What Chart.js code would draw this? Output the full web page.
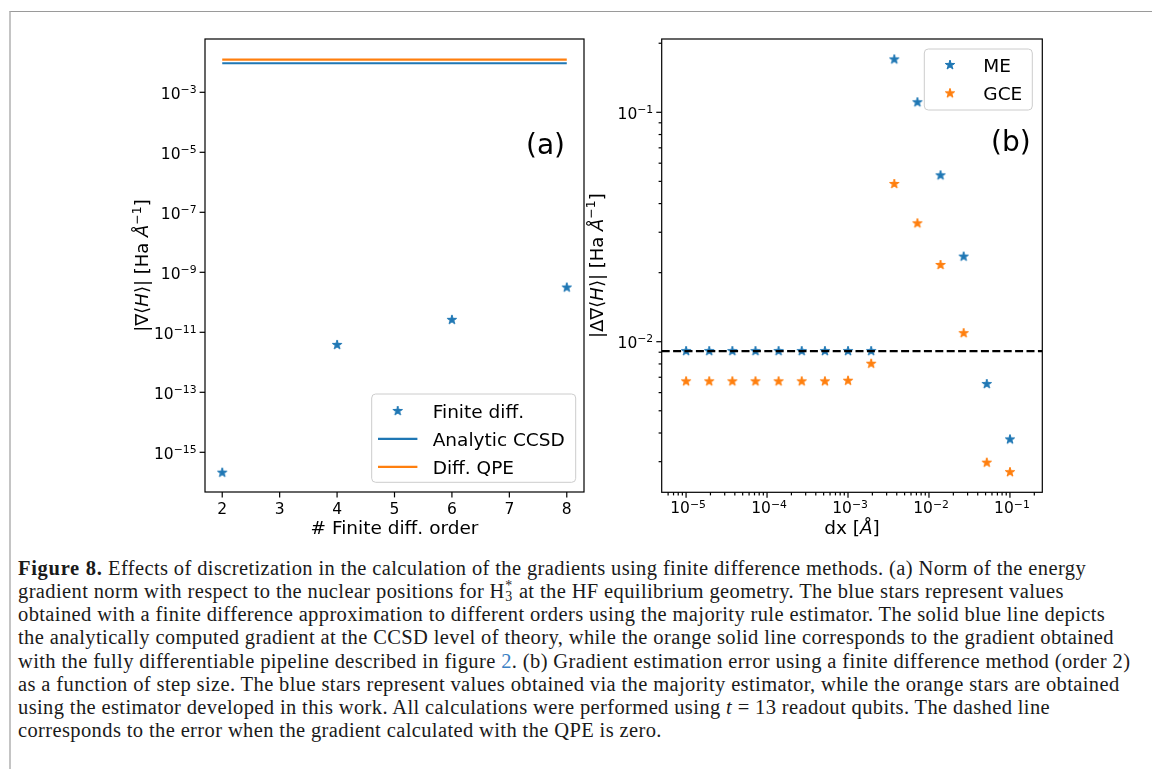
<!DOCTYPE html>
<html>
<head>
<meta charset="utf-8">
<script src="https://cdn.jsdelivr.net/npm/chart.js@4.4.0/dist/chart.umd.min.js"></script>
<style>
    html, body { margin: 0; padding: 0; background: #fff; }
    body { width: 1152px; height: 769px; position: relative; overflow: hidden; }
    #frame { position: absolute; left: 9px; top: 11px; right: -10px; bottom: -10px;
             border-top: 1px solid #9a9a9a; border-left: 2px solid #c4c4c4; }
    canvas { position: absolute; top: 0; }
    #chartA { left: 0; }
    #chartB { left: 575px; }
    #caption { position: absolute; left: 18px; top: 557px; font-family: "Liberation Serif", serif;
               font-size: 20.5px; letter-spacing: 0.38px; line-height: 23.15px; color: #1a1a1a; white-space: nowrap; }
    #caption b { letter-spacing: 0.7px; }
    #caption .link { color: #3a80c4; }
    .iso { display: inline-block; position: relative; width: 0.42em; height: 0.7em; }
    .iso span { position: absolute; left: 0.04em; font-size: 0.68em; line-height: 1; }
    .iso .sp { top: -0.38em; }
    .iso .sb { top: 0.42em; }
</style>
</head>
<body>
<div id="frame"></div>
<canvas id="chartA" width="590" height="545"></canvas>
<canvas id="chartB" width="577" height="545"></canvas>
<div id="caption">
<b>Figure 8.</b> Effects of discretization in the calculation of the gradients using finite difference methods. (a) Norm of the energy<br>
gradient norm with respect to the nuclear positions for H<span class="iso"><span class="sp">*</span><span class="sb">3</span></span> at the HF equilibrium geometry. The blue stars represent values<br>
obtained with a finite difference approximation to different orders using the majority rule estimator. The solid blue line depicts<br>
the analytically computed gradient at the CCSD level of theory, while the orange solid line corresponds to the gradient obtained<br>
with the fully differentiable pipeline described in figure <span class="link">2</span>. (b) Gradient estimation error using a finite difference method (order 2)<br>
as a function of step size. The blue stars represent values obtained via the majority estimator, while the orange stars are obtained<br>
using the estimator developed in this work. All calculations were performed using <i>t</i> = 13 readout qubits. The dashed line<br>
corresponds to the error when the gradient calculated with the QPE is zero.
</div>
<script>
const BLUE = "#1f77b4";
const ORANGE = "#ff7f0e";

// (a) gradient norm against finite difference order
const finiteOrders = [2, 4, 6, 8];
const finiteDiffGrad = [2.1e-16, 3.8e-12, 2.6e-11, 3.1e-10];
const analyticCcsdGrad = [9.3e-3, 9.3e-3, 9.3e-3, 9.3e-3];
const diffQpeGrad = [1.22e-2, 1.22e-2, 1.22e-2, 1.22e-2];
const orderTicks = [2, 3, 4, 5, 6, 7, 8];
const gradExpTicks = [-15, -13, -11, -9, -7, -5, -3];

// (b) gradient error against step size
const stepSizes = [1e-5, 1.93e-5, 3.73e-5, 7.2e-5, 1.39e-4, 2.68e-4, 5.18e-4, 1e-3,
                   1.93e-3, 3.73e-3, 7.2e-3, 1.39e-2, 2.68e-2, 5.18e-2, 1e-1];
const meError = [9.1e-3, 9.1e-3, 9.1e-3, 9.1e-3, 9.1e-3, 9.1e-3, 9.1e-3, 9.1e-3,
                 9.1e-3, 0.170, 0.1106, 0.0531, 0.0235, 6.54e-3, 3.75e-3];
const gceError = [6.72e-3, 6.72e-3, 6.72e-3, 6.72e-3, 6.72e-3, 6.72e-3, 6.72e-3, 6.76e-3,
                  8.02e-3, 0.0487, 0.0328, 0.0216, 0.0109, 2.97e-3, 2.7e-3];
const zeroGradError = 9.1e-3;
const stepExpTicks = [-5, -4, -3, -2, -1];
const errorExpTicks = [-2, -1];

// axis limits
const gradLimits = { xmin: 1.7, xmax: 8.3, ymin: 4.75e-17, ymax: 0.0598 };
const stepLimits = { xmin: 5.0e-6, xmax: 0.251, ymin: 2.206e-3, ymax: 0.2087 };

const FONT = "DejaVu Sans";
const TICK_FONT = `15.5px "${FONT}"`;
const SUP_FONT = `10.8px "${FONT}"`;

// matplotlib style filled five point star
function makeStar(color, r) {
    const s = Math.ceil(r * 2 + 4);
    const c = document.createElement("canvas");
    c.width = s;
    c.height = s;
    const ctx = c.getContext("2d");
    ctx.translate(s / 2, s / 2);
    ctx.beginPath();
    for (let i = 0; i < 10; i++) {
        const rad = i % 2 === 0 ? r : r * 0.382;
        const ang = -Math.PI / 2 + i * Math.PI / 5;
        if (i === 0) ctx.moveTo(rad * Math.cos(ang), rad * Math.sin(ang));
        else ctx.lineTo(rad * Math.cos(ang), rad * Math.sin(ang));
    }
    ctx.closePath();
    ctx.fillStyle = color;
    ctx.fill();
    ctx.lineWidth = 1;
    ctx.strokeStyle = color;
    ctx.stroke();
    return c;
}
const blueStar = makeStar(BLUE, 5);
const orangeStar = makeStar(ORANGE, 5);

// draws a run of text pieces {t, f, dy} from a baseline point
function drawRich(ctx, parts, x, y, align) {
    let total = 0;
    parts.forEach((p) => {
        ctx.font = p.f;
        total += ctx.measureText(p.t).width;
    });
    let cx = x;
    if (align === "center") cx = x - total / 2;
    if (align === "right") cx = x - total;
    ctx.textAlign = "left";
    ctx.textBaseline = "alphabetic";
    parts.forEach((p) => {
        ctx.font = p.f;
        ctx.fillText(p.t, cx, y + (p.dy || 0));
        cx += ctx.measureText(p.t).width;
    });
}

function powerLabel(exp) {
    return [{ t: "10", f: TICK_FONT }, { t: "\u2212" + Math.abs(exp), f: SUP_FONT, dy: -5.8 }];
}

function minorLogValues(min, max) {
    const vals = [];
    for (let e = Math.floor(Math.log10(min)); e <= Math.ceil(Math.log10(max)); e++) {
        for (let m = 2; m <= 9; m++) {
            const v = m * Math.pow(10, e);
            if (v >= min && v <= max) vals.push(v);
        }
    }
    return vals;
}

// frame, ticks, labels, legend and panel letter in matplotlib fashion
const mplAxes = {
    id: "mplAxes",
    afterDraw(chart, args, opts) {
        const { ctx, chartArea: a, scales } = chart;
        const xs = scales.x;
        const ys = scales.y;
        ctx.save();
        ctx.fillStyle = "#000";
        ctx.strokeStyle = "#000";
        ctx.lineWidth = 1.2;
        ctx.strokeRect(a.left, a.top, a.right - a.left, a.bottom - a.top);

        const tick = (px, py, dx, dy) => {
            ctx.beginPath();
            ctx.moveTo(px, py);
            ctx.lineTo(px + dx, py + dy);
            ctx.stroke();
        };

        // x axis
        if (opts.xLog) {
            minorLogValues(xs.min, xs.max).forEach((v) => tick(xs.getPixelForValue(v), a.bottom, 0, 3.1));
            opts.xExps.forEach((e) => {
                const px = xs.getPixelForValue(Math.pow(10, e));
                tick(px, a.bottom, 0, 5.4);
                drawRich(ctx, powerLabel(e), px + 2, a.bottom + 21, "center");
            });
        } else {
            opts.xValues.forEach((v) => {
                const px = xs.getPixelForValue(v);
                tick(px, a.bottom, 0, 5.4);
                drawRich(ctx, [{ t: String(v), f: TICK_FONT }], px, a.bottom + 21.5, "center");
            });
        }

        // y axis
        if (opts.yMinor) {
            minorLogValues(ys.min, ys.max).forEach((v) => tick(a.left, ys.getPixelForValue(v), -3.1, 0));
        }
        opts.yExps.forEach((e) => {
            const py = ys.getPixelForValue(Math.pow(10, e));
            tick(a.left, py, -5.4, 0);
            drawRich(ctx, powerLabel(e), a.left - 8.5, py + 6.5, "right");
        });

        // axis titles
        drawRich(ctx, opts.xTitle, (a.left + a.right) / 2, a.bottom + 42, "center");
        ctx.save();
        ctx.translate(opts.yTitleX, (a.top + a.bottom) / 2);
        ctx.rotate(-Math.PI / 2);
        drawRich(ctx, opts.yTitle, 0, 0, "center");
        ctx.restore();

        // panel letter
        drawRich(ctx, [{ t: opts.panel, f: `28px "${FONT}"` }], opts.panelX, opts.panelY, "left");

        // legend
        const lg = opts.legend;
        ctx.fillStyle = "rgba(255,255,255,0.8)";
        ctx.strokeStyle = "#cccccc";
        ctx.lineWidth = 1;
        ctx.beginPath();
        ctx.roundRect(lg.x, lg.y, lg.w, lg.h, 4);
        ctx.fill();
        ctx.stroke();
        const entries = chart.data.datasets.filter((d) => d.label);
        entries.sort((p, q) => p.legendOrder - q.legendOrder);
        entries.forEach((d, i) => {
            const ry = lg.y + lg.firstRow + i * lg.rowGap;
            if (d.showLine) {
                ctx.strokeStyle = d.borderColor;
                ctx.lineWidth = 2.2;
                ctx.beginPath();
                ctx.moveTo(lg.x + lg.handleX - 19.7, ry);
                ctx.lineTo(lg.x + lg.handleX + 19.7, ry);
                ctx.stroke();
            } else {
                const img = d.pointStyle;
                ctx.drawImage(img, lg.x + lg.handleX - img.width / 2, ry - img.height / 2);
            }
            ctx.fillStyle = "#000";
            drawRich(ctx, [{ t: d.label, f: `18.5px "${FONT}"` }], lg.x + lg.textX, ry + 6.8, "left");
        });
        ctx.restore();
    },
};

function hiddenAxis(type, lim) {
    return { type: type, display: false, min: lim[0], max: lim[1] };
}

const labelFont = `18.5px "${FONT}"`;
const italicLabel = `italic 18.5px "${FONT}"`;
const yFont = `18px "${FONT}"`;
const yItalic = `italic 18px "${FONT}"`;
const ySup = `12.5px "${FONT}"`;

document.addEventListener("DOMContentLoaded", () => {
    // (a)
    new Chart(document.getElementById("chartA"), {
        type: "scatter",
        data: {
            datasets: [
                {
                    label: "Finite diff.",
                    legendOrder: 0,
                    data: finiteOrders.map((x, i) => ({ x: x, y: finiteDiffGrad[i] })),
                    pointStyle: blueStar,
                    pointRadius: 5,
                    showLine: false,
                },
                {
                    label: "Analytic CCSD",
                    legendOrder: 1,
                    data: finiteOrders.map((x, i) => ({ x: x, y: analyticCcsdGrad[i] })),
                    showLine: true,
                    borderColor: BLUE,
                    borderWidth: 2.2,
                    pointRadius: 0,
                },
                {
                    label: "Diff. QPE",
                    legendOrder: 2,
                    data: finiteOrders.map((x, i) => ({ x: x, y: diffQpeGrad[i] })),
                    showLine: true,
                    borderColor: ORANGE,
                    borderWidth: 2.2,
                    pointRadius: 0,
                },
            ],
        },
        options: {
            responsive: false,
            animation: false,
            devicePixelRatio: 1,
            layout: { padding: { left: 205, top: 39, right: 4, bottom: 53 } },
            scales: {
                x: hiddenAxis("linear", [gradLimits.xmin, gradLimits.xmax]),
                y: hiddenAxis("logarithmic", [gradLimits.ymin, gradLimits.ymax]),
            },
            plugins: {
                legend: { display: false },
                tooltip: { enabled: false },
                mplAxes: {
                    xLog: false,
                    xValues: orderTicks,
                    yExps: gradExpTicks,
                    yMinor: false,
                    xTitle: [{ t: "# Finite diff. order", f: labelFont }],
                    yTitleX: 148,
                    yTitle: [
                        { t: "|\u2207\u27e8", f: yFont },
                        { t: "H", f: yItalic },
                        { t: "\u27e9| [Ha ", f: yFont },
                        { t: "\u00c5", f: yItalic },
                        { t: "\u22121", f: ySup, dy: -7.5 },
                        { t: "]", f: yFont },
                    ],
                    panel: "(a)",
                    panelX: 526,
                    panelY: 154,
                    legend: { x: 371.7, y: 394, w: 204, h: 88.3, firstRow: 17, rowGap: 27.9, handleX: 26, textX: 61 },
                },
            },
        },
        plugins: [mplAxes],
    });

    // (b)
    new Chart(document.getElementById("chartB"), {
        type: "scatter",
        data: {
            datasets: [
                {
                    data: [
                        { x: stepLimits.xmin, y: zeroGradError },
                        { x: stepLimits.xmax, y: zeroGradError },
                    ],
                    showLine: true,
                    borderColor: "#000",
                    borderWidth: 2.2,
                    borderDash: [8, 3.4],
                    pointRadius: 0,
                },
                {
                    label: "ME",
                    legendOrder: 0,
                    data: stepSizes.map((x, i) => ({ x: x, y: meError[i] })),
                    pointStyle: blueStar,
                    pointRadius: 5,
                    showLine: false,
                },
                {
                    label: "GCE",
                    legendOrder: 1,
                    data: stepSizes.map((x, i) => ({ x: x, y: gceError[i] })),
                    pointStyle: orangeStar,
                    pointRadius: 5,
                    showLine: false,
                },
            ],
        },
        options: {
            responsive: false,
            animation: false,
            devicePixelRatio: 1,
            layout: { padding: { left: 86.7, top: 39, right: 109.7, bottom: 52.7 } },
            scales: {
                x: hiddenAxis("logarithmic", [stepLimits.xmin, stepLimits.xmax]),
                y: hiddenAxis("logarithmic", [stepLimits.ymin, stepLimits.ymax]),
            },
            plugins: {
                legend: { display: false },
                tooltip: { enabled: false },
                mplAxes: {
                    xLog: true,
                    xExps: stepExpTicks,
                    yExps: errorExpTicks,
                    yMinor: true,
                    xTitle: [
                        { t: "dx [", f: labelFont },
                        { t: "\u00c5", f: italicLabel },
                        { t: "]", f: labelFont },
                    ],
                    yTitleX: 602.5 - 575,
                    yTitle: [
                        { t: "|\u0394\u2207\u27e8", f: yFont },
                        { t: "H", f: yItalic },
                        { t: "\u27e9| [Ha ", f: yFont },
                        { t: "\u00c5", f: yItalic },
                        { t: "\u22121", f: ySup, dy: -7.5 },
                        { t: "]", f: yFont },
                    ],
                    panel: "(b)",
                    panelX: 991 - 575,
                    panelY: 151.3,
                    legend: { x: 924.3 - 575, y: 49, w: 108, h: 61, firstRow: 16, rowGap: 28.3, handleX: 25.7, textX: 59 },
                },
            },
        },
        plugins: [mplAxes],
    });
});
</script>
</body>
</html>
